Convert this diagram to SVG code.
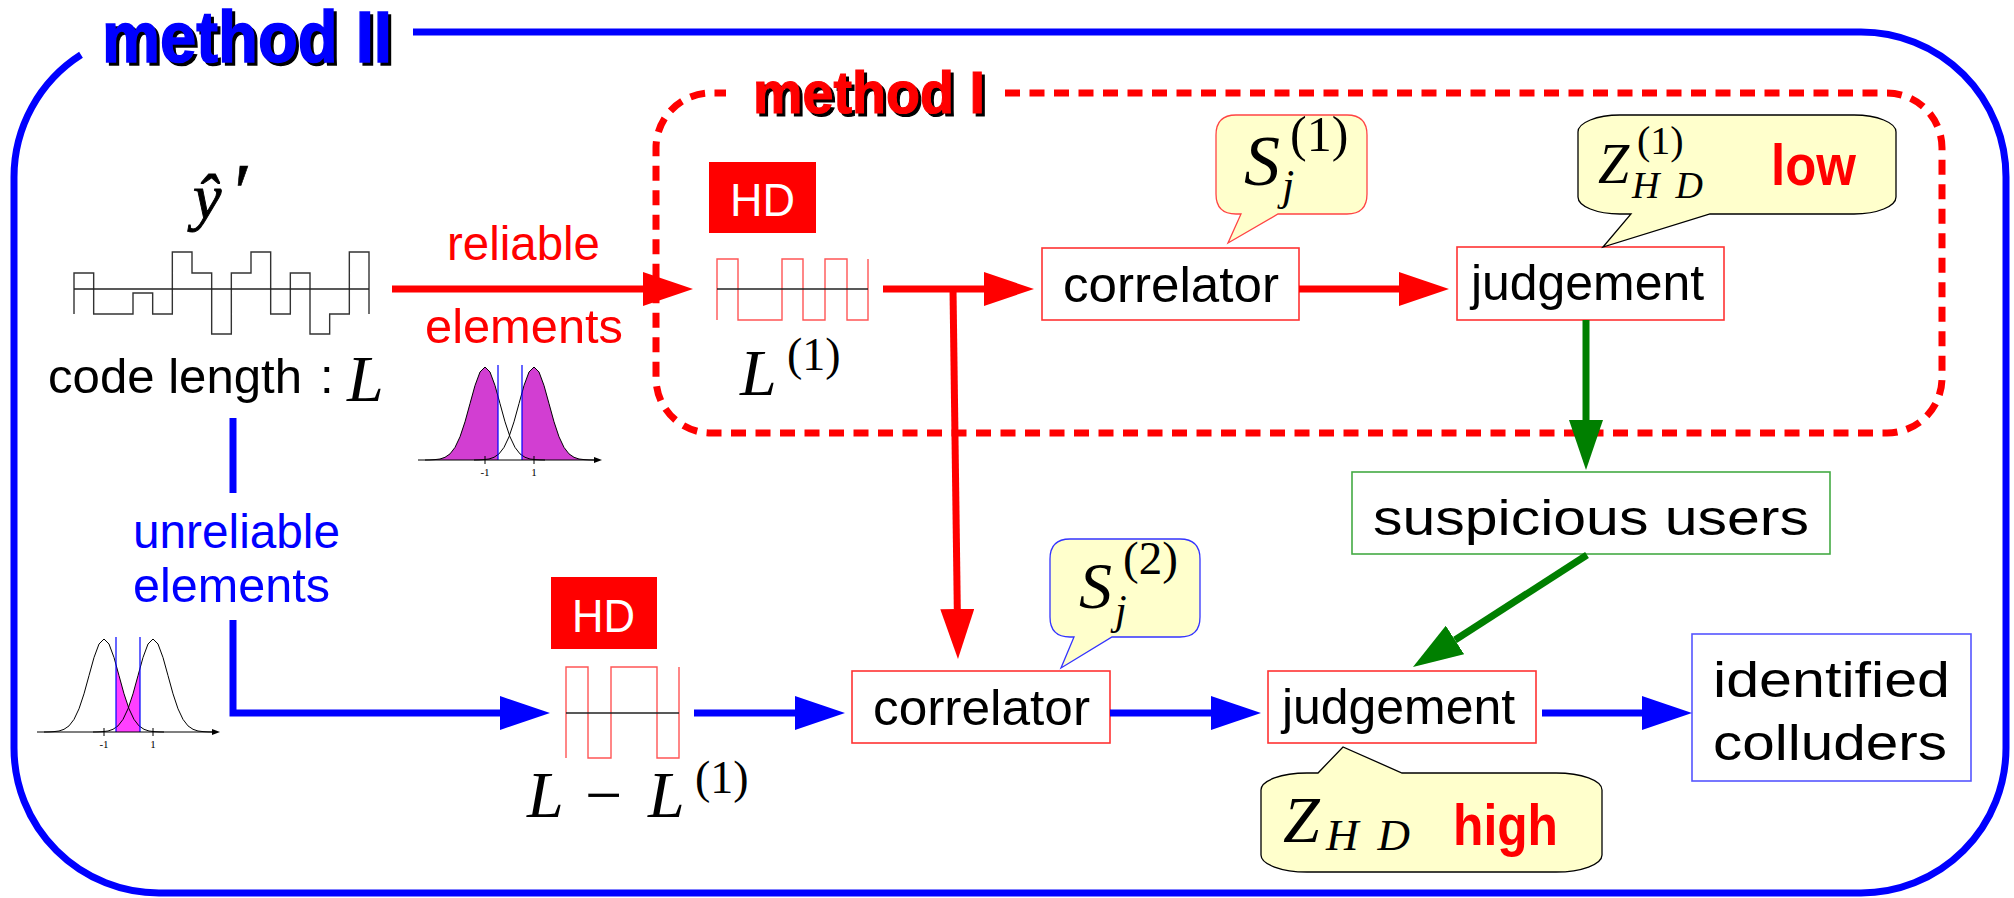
<svg xmlns="http://www.w3.org/2000/svg" width="2014" height="898" viewBox="0 0 2014 898">
<defs>
<style>
.sans{font-family:"Liberation Sans",Arial,sans-serif;}
.lbl{font-family:"Liberation Sans",Arial,sans-serif;font-size:50px;fill:#000;}
.math{font-family:"Liberation Serif","Times New Roman",serif;font-style:italic;fill:#000;}
.rm{font-family:"Liberation Serif","Times New Roman",serif;font-style:normal;fill:#000;}
.box{fill:#fff;stroke:#ff3333;stroke-width:1.6;}
.bubble{fill:#ffffcc;stroke-width:1.3;}
.hd{fill:#ff0000;}
.hdt{font-family:"Liberation Sans",Arial,sans-serif;font-size:46px;fill:#fff;}
.wave{fill:none;stroke:#ff5555;stroke-width:1.4;}
.mid{fill:none;stroke:#222;stroke-width:1.3;}
.ar{fill:none;stroke-width:7;}
.curve{fill:none;stroke:#000;stroke-width:1;}
.tick{font-family:"Liberation Serif",serif;font-size:11px;fill:#000;}
</style>
<marker id="hr" markerUnits="userSpaceOnUse" markerWidth="50" markerHeight="34" refX="0" refY="17" orient="auto"><path d="M0,0 L50,17 L0,34 Z" fill="#ff0000"/></marker>
<marker id="hb" markerUnits="userSpaceOnUse" markerWidth="50" markerHeight="34" refX="0" refY="17" orient="auto"><path d="M0,0 L50,17 L0,34 Z" fill="#0000ff"/></marker>
<marker id="hg" markerUnits="userSpaceOnUse" markerWidth="50" markerHeight="34" refX="0" refY="17" orient="auto"><path d="M0,0 L50,17 L0,34 Z" fill="#007f00"/></marker>
<marker id="ax" markerUnits="userSpaceOnUse" markerWidth="8" markerHeight="6" refX="0" refY="3" orient="auto"><path d="M0,0 L8,3 L0,6 Z" fill="#000"/></marker>
</defs>
<rect width="2014" height="898" fill="#fff"/>

<g id="method2">
<path d="M413 32 H1861 A145 145 0 0 1 2006 177 V748 A145 145 0 0 1 1861 893 H159 A145 145 0 0 1 14 748 V177 A145 145 0 0 1 81 54.8" fill="none" stroke="#0000ff" stroke-width="7"/>
<text class="sans" x="105" y="65" font-size="72" font-weight="bold" textLength="290" lengthAdjust="spacingAndGlyphs" fill="#000" stroke="#000" stroke-width="1.5">method II</text>
<text class="sans" x="102" y="62" font-size="72" font-weight="bold" textLength="290" lengthAdjust="spacingAndGlyphs" fill="#0000ff" stroke="#0000ff" stroke-width="1.5">method II</text>
</g>

<g id="method1">
<path d="M1005 93 H1887 A55 55 0 0 1 1942 148 V378 A55 55 0 0 1 1887 433 H711 A55 55 0 0 1 656 378 V148 A55 55 0 0 1 711 93 H726" fill="none" stroke="#ff0000" stroke-width="7" stroke-dasharray="15 9.5"/>
<text class="sans" x="756" y="116" font-size="60" font-weight="bold" textLength="232" lengthAdjust="spacingAndGlyphs" fill="#000" stroke="#000" stroke-width="1.2">method I</text>
<text class="sans" x="753" y="113" font-size="60" font-weight="bold" textLength="232" lengthAdjust="spacingAndGlyphs" fill="#ff0000" stroke="#ff0000" stroke-width="1.2">method I</text>
</g>

<g id="input">
<text class="math" x="193" y="218" font-size="64" stroke="#000" stroke-width="0.9">ŷ</text>
<text class="rm" x="234" y="220" font-size="82" stroke="#000" stroke-width="0.6">′</text>
<path d="M74 314 V273 H93.67 V314 H133 V293 H152.67 V314 H172.33 V252 H192 V273 H211.67 V334 H231.33 V273 H251 V252 H270.67 V314 H290.33 V273 H310 V334 H329.67 V314 H349.33 V252 H369 V314" fill="none" stroke="#333" stroke-width="1.4"/>
<path class="mid" d="M74 289 H369"/>
<text class="sans" x="48" y="393" font-size="49" textLength="254" lengthAdjust="spacingAndGlyphs">code length</text>
<text class="sans" x="320" y="393" font-size="49">:</text>
<text class="math" x="347" y="401" font-size="66">L</text>
</g>

<g id="reliable-label">
<text class="sans" x="447" y="260" font-size="48" fill="#ff0000" textLength="153" lengthAdjust="spacingAndGlyphs">reliable</text>
<text class="sans" x="425" y="343" font-size="48" fill="#ff0000" textLength="198" lengthAdjust="spacingAndGlyphs">elements</text>
</g>

<g id="hist-reliable">
<polygon points="425,460 430,459.9 435,459.6 440,459 445,457.3 450,453.9 455,447.4 460,436.8 465,421.8 470,403.6 475,385.5 480,372 485,367 490,372 495,385.5 498,396.1 498,460" fill="#d23ed2"/>
<polygon points="522,460 522,392.5 524,385.5 529,372 534,367 539,372 544,385.5 549,403.6 554,421.8 559,436.8 564,447.4 569,453.9 574,457.3 579,459 584,459.6 589,459.9 594,460" fill="#d23ed2"/>
<polyline class="curve" points="425,460 430,459.9 435,459.6 440,459 445,457.3 450,453.9 455,447.4 460,436.8 465,421.8 470,403.6 475,385.5 480,372 485,367 490,372 495,385.5 500,403.6 505,421.8 510,436.8 515,447.4 520,453.9 525,457.3 530,459 535,459.6 540,459.9 545,460"/>
<polyline class="curve" points="474,460 479,459.9 484,459.6 489,459 494,457.3 499,453.9 504,447.4 509,436.8 514,421.8 519,403.6 524,385.5 529,372 534,367 539,372 544,385.5 549,403.6 554,421.8 559,436.8 564,447.4 569,453.9 574,457.3 579,459 584,459.6 589,459.9 594,460"/>
<path d="M498 365 V460 M522 365 V460" stroke="#0000ff" stroke-width="1.2"/>
<path d="M418 460 H594" stroke="#000" stroke-width="1.2" marker-end="url(#ax)"/>
<path d="M485 456 V464 M534 456 V464" stroke="#000" stroke-width="1"/>
<text class="tick" x="485" y="476" text-anchor="middle">-1</text>
<text class="tick" x="534" y="476" text-anchor="middle">1</text>
</g>

<g id="unreliable-label">
<text class="sans" x="133" y="548" font-size="48" fill="#0000ff" textLength="207" lengthAdjust="spacingAndGlyphs">unreliable</text>
<text class="sans" x="133" y="602" font-size="48" fill="#0000ff" textLength="197" lengthAdjust="spacingAndGlyphs">elements</text>
</g>

<g id="hist-unreliable">
<polygon points="116,732 116,664.5 120,679.3 124,693.8 128.5,707.5 132,697.1 136,683.1 140,668.1 140,732" fill="#ff40ff"/>
<polyline class="curve" points="44,732 49,731.9 54,731.6 59,731 64,729.3 69,725.9 74,719.4 79,708.8 84,693.8 89,675.6 94,657.5 99,644 104,639 109,644 114,657.5 119,675.6 124,693.8 129,708.8 134,719.4 139,725.9 144,729.3 149,731 154,731.6 159,731.9 164,732"/>
<polyline class="curve" points="93,732 98,731.9 103,731.6 108,731 113,729.3 118,725.9 123,719.4 128,708.8 133,693.8 138,675.6 143,657.5 148,644 153,639 158,644 163,657.5 168,675.6 173,693.8 178,708.8 183,719.4 188,725.9 193,729.3 198,731 203,731.6 208,731.9 213,732"/>
<path d="M116 637 V732 M140 637 V732" stroke="#0000ff" stroke-width="1.2"/>
<path d="M37 732 H212" stroke="#000" stroke-width="1.2" marker-end="url(#ax)"/>
<path d="M104 728 V736 M153 728 V736" stroke="#000" stroke-width="1"/>
<text class="tick" x="104" y="748" text-anchor="middle">-1</text>
<text class="tick" x="153" y="748" text-anchor="middle">1</text>
</g>

<g id="hd1">
<rect class="hd" x="709" y="162" width="107" height="71"/>
<text class="hdt" x="730" y="216" textLength="65" lengthAdjust="spacingAndGlyphs">HD</text>
<path class="wave" d="M717 320 V259 H738 V320 H782 V259 H803 V320 H825 V259 H847 V320 H868 V259"/>
<path class="mid" d="M717 289 H868"/>
<text class="math" x="740" y="395" font-size="66">L</text>
<text class="rm" x="787" y="370" font-size="46">(1)</text>
</g>

<g id="hd2">
<rect class="hd" x="551" y="577" width="106" height="72"/>
<text class="hdt" x="572" y="632" textLength="63" lengthAdjust="spacingAndGlyphs">HD</text>
<path class="wave" d="M566 758 V667 H588 V758 H611 V667 H657 V758 H679 V667"/>
<path class="mid" d="M566 713 H679"/>
<text class="math" x="527" y="817" font-size="66">L</text>
<text class="rm" x="585" y="817" font-size="66">−</text>
<text class="math" x="648" y="817" font-size="66">L</text>
<text class="rm" x="695" y="793" font-size="46">(1)</text>
</g>

<g id="correlator1">
<rect class="box" x="1042" y="248" width="257" height="72"/>
<text class="lbl" x="1063" y="302" textLength="216" lengthAdjust="spacingAndGlyphs">correlator</text>
</g>

<g id="bubble-s1">
<path class="bubble" stroke="#ff4444" d="M1236 115 H1347 Q1367 115 1367 135 V194 Q1367 214 1347 214 H1278 L1228 243 L1241 214 H1236 Q1216 214 1216 194 V135 Q1216 115 1236 115 Z"/>
<text class="math" x="1244" y="185" font-size="72">S</text>
<text class="math" x="1282" y="200" font-size="44">j</text>
<text class="rm" x="1290" y="151" font-size="50">(1)</text>
</g>

<g id="judgement1">
<rect class="box" x="1457" y="247" width="267" height="73"/>
<text class="lbl" x="1471" y="300" textLength="233" lengthAdjust="spacingAndGlyphs">judgement</text>
</g>

<g id="bubble-z1">
<path class="bubble" stroke="#000" d="M1620 115 H1854 A42 17 0 0 1 1896 132 V197 A42 17 0 0 1 1854 214 H1710 L1603 247 L1631 214 H1620 A42 17 0 0 1 1578 197 V132 A42 17 0 0 1 1620 115 Z"/>
<text class="math" x="1598" y="183" font-size="56">Z</text>
<text class="rm" x="1637" y="154" font-size="40">(1)</text>
<text class="math" x="1632" y="198" font-size="38" textLength="71" lengthAdjust="spacing">HD</text>
<text class="sans" x="1771" y="185" font-size="58" font-weight="bold" fill="#ff0000" textLength="85" lengthAdjust="spacingAndGlyphs">low</text>
</g>

<g id="suspicious">
<rect x="1352" y="472" width="478" height="82" fill="#fff" stroke="#44aa44" stroke-width="1.6"/>
<text class="lbl" x="1373" y="535" font-size="58" textLength="436" lengthAdjust="spacingAndGlyphs">suspicious users</text>
</g>

<g id="correlator2">
<rect class="box" x="852" y="671" width="258" height="72"/>
<text class="lbl" x="873" y="725" textLength="217" lengthAdjust="spacingAndGlyphs">correlator</text>
</g>

<g id="bubble-s2">
<path class="bubble" stroke="#3333ff" d="M1070 539 H1180 Q1200 539 1200 559 V617 Q1200 637 1180 637 H1112 L1061 668 L1074 637 H1070 Q1050 637 1050 617 V559 Q1050 539 1070 539 Z"/>
<text class="math" x="1079" y="608" font-size="66">S</text>
<text class="math" x="1115" y="624" font-size="42">j</text>
<text class="rm" x="1123" y="574" font-size="47">(2)</text>
</g>

<g id="judgement2">
<rect class="box" x="1268" y="671" width="268" height="72"/>
<text class="lbl" x="1282" y="724" textLength="233" lengthAdjust="spacingAndGlyphs">judgement</text>
</g>

<g id="bubble-z2">
<path class="bubble" stroke="#000" d="M1307 773 H1318 L1343 747 L1402 773 H1556 A46 17 0 0 1 1602 790 V855 A46 17 0 0 1 1556 872 H1307 A46 17 0 0 1 1261 855 V790 A46 17 0 0 1 1307 773 Z"/>
<text class="math" x="1283" y="842" font-size="66">Z</text>
<text class="math" x="1326" y="850" font-size="45" textLength="84" lengthAdjust="spacing">HD</text>
<text class="sans" x="1453" y="845" font-size="58" font-weight="bold" fill="#ff0000" textLength="105" lengthAdjust="spacingAndGlyphs">high</text>
</g>

<g id="colluders">
<rect x="1692" y="634" width="279" height="147" fill="#fff" stroke="#5555ff" stroke-width="1.6"/>
<text class="lbl" x="1713" y="697" font-size="58" textLength="237" lengthAdjust="spacingAndGlyphs">identified</text>
<text class="lbl" x="1713" y="760" font-size="58" textLength="234" lengthAdjust="spacingAndGlyphs">colluders</text>
</g>

<g id="connectors">
<path class="ar" stroke="#ff0000" d="M392 289 H643" marker-end="url(#hr)"/>
<path class="ar" stroke="#ff0000" d="M883 289 H984" marker-end="url(#hr)"/>
<path class="ar" stroke="#ff0000" d="M1299 289 H1399" marker-end="url(#hr)"/>
<path class="ar" stroke="#ff0000" stroke-width="6" d="M953 289 L957.3 609" marker-end="url(#hr)"/>
<path class="ar" stroke="#007f00" d="M1586 320 V420" marker-end="url(#hg)"/>
<path class="ar" stroke="#007f00" d="M1587 555 L1455 640" marker-end="url(#hg)"/>
<path class="ar" stroke="#0000ff" d="M233 418 V493"/>
<path class="ar" stroke="#0000ff" d="M233 620 V713 H500" marker-end="url(#hb)"/>
<path class="ar" stroke="#0000ff" d="M694 713 H795" marker-end="url(#hb)"/>
<path class="ar" stroke="#0000ff" d="M1110 713 H1211" marker-end="url(#hb)"/>
<path class="ar" stroke="#0000ff" d="M1542 713 H1642" marker-end="url(#hb)"/>
</g>
</svg>
